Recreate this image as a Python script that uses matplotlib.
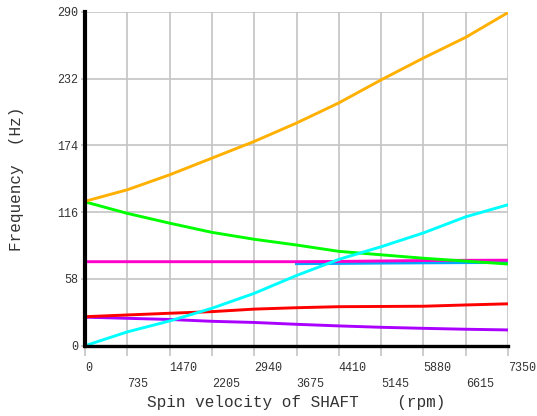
import matplotlib
matplotlib.use("Agg")
import matplotlib.pyplot as plt
import numpy as np

# Spin speeds (rpm) at which the whirl frequencies were evaluated
rpm = [0, 735, 1470, 2205, 2940, 3675, 4410, 5145, 5880, 6615, 7350]

# Whirl frequencies (Hz) for each mode
mode_orange = [125.5, 135.5, 148.5, 163.0, 177.5, 193.5, 211.0, 231.0, 250.0, 268.0, 289.5]
mode_green = [125.0, 115.0, 106.5, 98.5, 92.5, 87.5, 82.0, 79.0, 76.0, 73.5, 71.0]
mode_magenta = [73.0, 73.0, 73.0, 73.0, 73.0, 73.0, 73.2, 73.6, 74.0, 74.2, 74.3]
mode_cyan = [0.0, 12.0, 21.5, 32.5, 45.5, 61.0, 75.0, 86.0, 98.0, 112.0, 122.5]
mode_red = [25.2, 26.7, 28.2, 29.6, 31.8, 33.0, 33.9, 34.1, 34.3, 35.4, 36.4]
mode_purple = [24.8, 23.8, 22.8, 21.2, 20.2, 18.6, 17.2, 16.0, 15.1, 14.3, 13.7]

# Mode that only appears above 3675 rpm
rpm_blue = [3675, 4410, 5145, 5880, 6615, 7350]
mode_blue = [71.3, 71.5, 71.8, 72.0, 72.2, 72.3]

x_ticks_major = [0, 1470, 2940, 4410, 5880, 7350]
x_ticks_minor = [735, 2205, 3675, 5145, 6615]
y_ticks = [0, 58, 116, 174, 232, 290]

mono = "Liberation Mono"
text_col = "#333333"
grid_col = "#c4c4c4"

fig = plt.figure(figsize=(5.37, 4.16), dpi=100)
ax = fig.add_axes([85 / 537, (416 - 345.7) / 416, (508 - 85) / 537, (345.7 - 12) / 416])

lw = 2.1
ax.plot(rpm_blue, mode_blue, color="#00a8ff", lw=lw, zorder=3)
ax.plot(rpm, mode_magenta, color="#ff00cc", lw=lw, zorder=4)
ax.plot(rpm, mode_green, color="#00ff00", lw=lw, zorder=5)
ax.plot(rpm, mode_orange, color="#ffb000", lw=lw, zorder=6)
ax.plot(rpm, mode_purple, color="#aa00ff", lw=lw, zorder=4)
ax.plot(rpm, mode_red, color="#ff0000", lw=lw, zorder=5)
ax.plot(rpm, mode_cyan, color="#00ffff", lw=lw, zorder=6)

ax.set_xlim(0, 7350)
ax.set_ylim(0, 290)

ax.set_xticks(x_ticks_major)
ax.set_xticks(x_ticks_minor, minor=True)
ax.set_yticks(y_ticks)
ax.set_xticklabels([str(v) for v in x_ticks_major], fontfamily=mono, fontsize=8.5,
                   color=text_col, ha="left")
ax.set_xticklabels([str(v) for v in x_ticks_minor], minor=True, fontfamily=mono,
                   fontsize=8.5, color=text_col, ha="left")
ax.set_yticklabels([str(v) for v in y_ticks], fontfamily=mono, fontsize=8.5, color=text_col)

ax.tick_params(axis="x", which="major", length=7, width=1.2, color=grid_col, pad=5)
ax.tick_params(axis="x", which="minor", length=7, width=1.2, color=grid_col, pad=16)
ax.tick_params(axis="y", length=3, width=1.2, color=grid_col, pad=2)

ax.grid(True, which="both", color=grid_col, lw=1.2, zorder=0)
ax.set_axisbelow(True)

for side in ("top", "right"):
    ax.spines[side].set_visible(False)
ax.spines["left"].set_linewidth(3.0)
ax.spines["bottom"].set_linewidth(2.4)
ax.spines["left"].set_zorder(10)
ax.spines["bottom"].set_zorder(10)

ax.set_xlabel("Spin velocity of SHAFT    (rpm)", fontfamily=mono, fontsize=11.5,
              color=text_col, labelpad=4)
ax.set_ylabel("Frequency  (Hz)", fontfamily=mono, fontsize=11.5, color=text_col, labelpad=24)

fig.savefig("out.png", dpi=100)
